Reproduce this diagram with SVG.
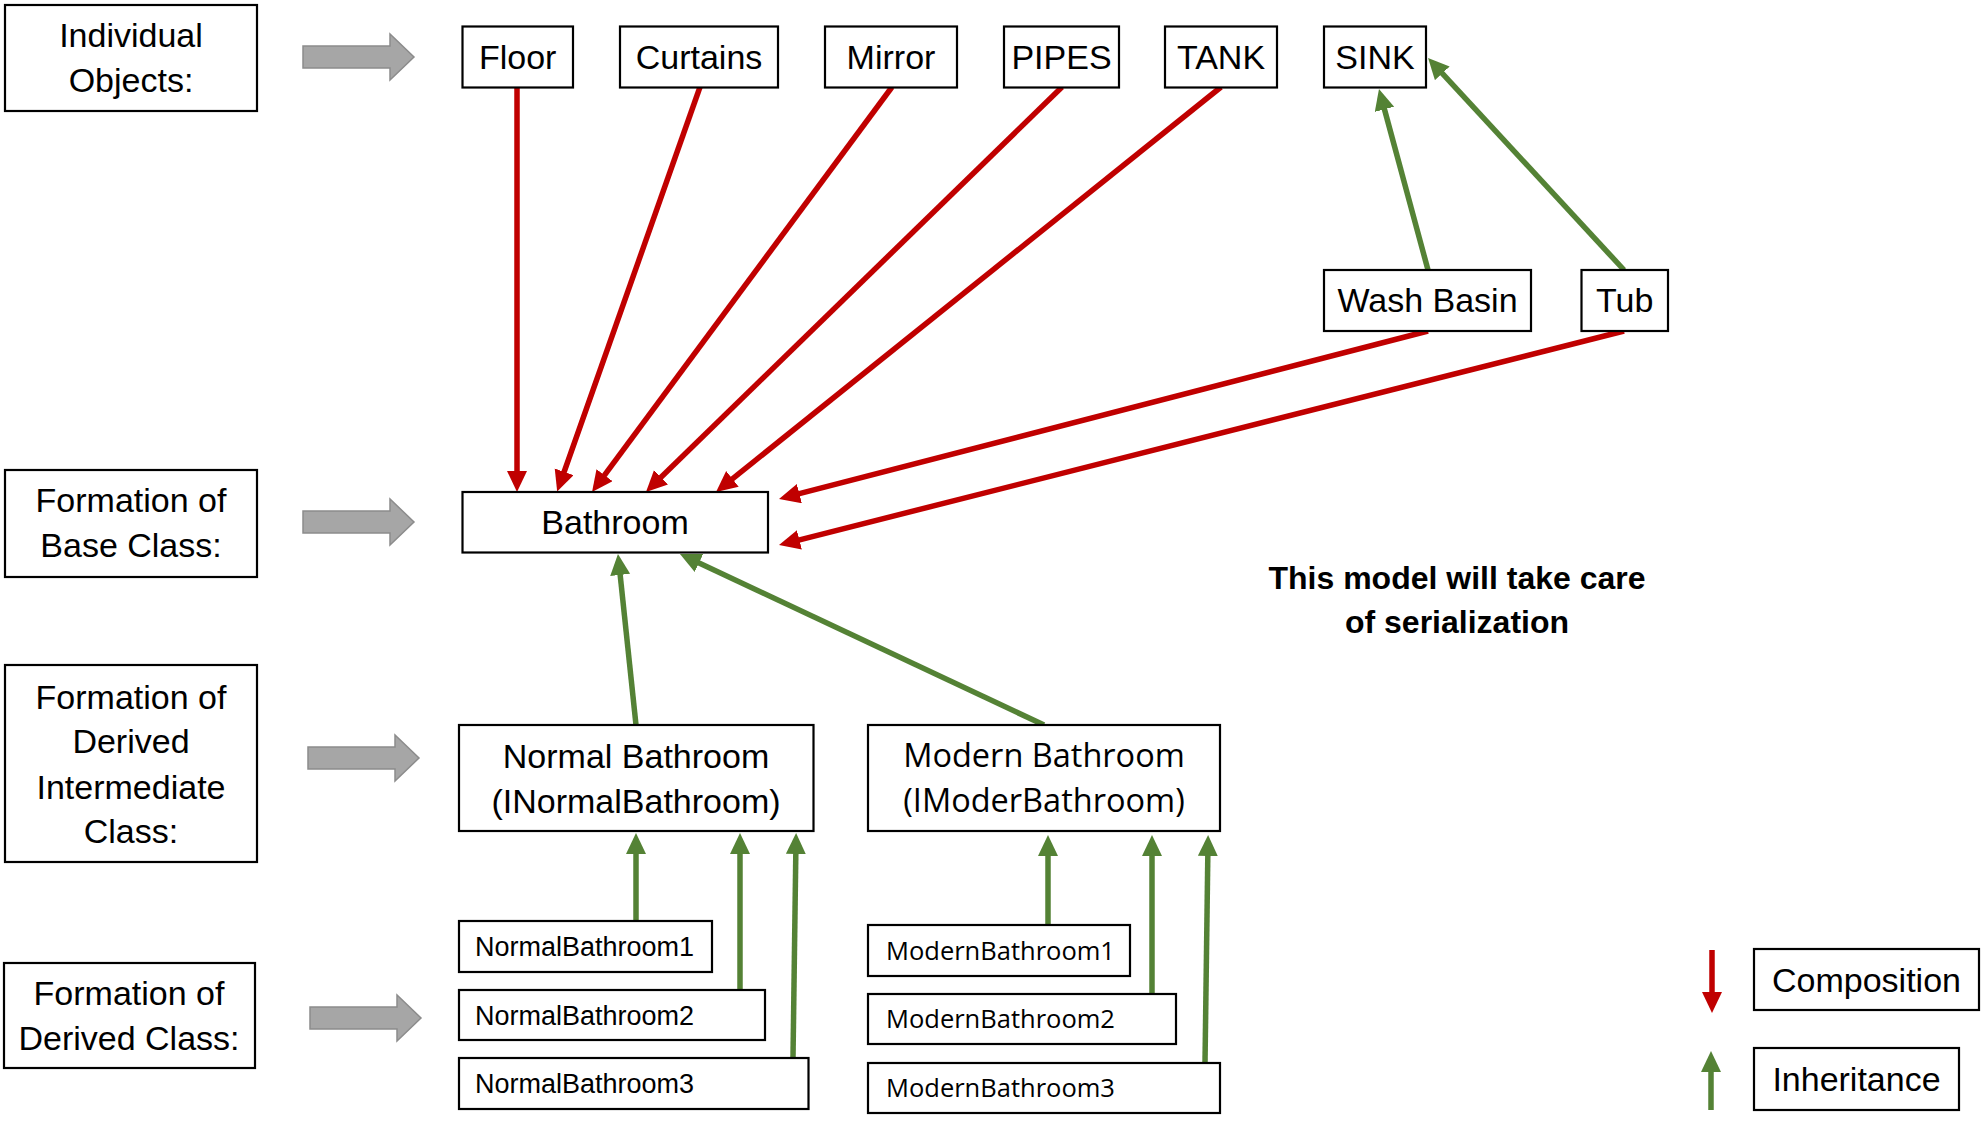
<svg xmlns="http://www.w3.org/2000/svg" width="1987" height="1125" viewBox="0 0 1987 1125">
<defs>
<style>
.box{fill:#fff;stroke:#000;stroke-width:2.2}
.t{font-family:"Liberation Sans",Arial,sans-serif;font-size:34px;fill:#000;text-anchor:middle}
.s{font-family:"Liberation Sans",Arial,sans-serif;font-size:27px;fill:#000}
.o{font-family:"Open Sans","Noto Sans",sans-serif;font-size:32.5px;fill:#000;text-anchor:middle}
.os{font-family:"Open Sans","Noto Sans",sans-serif;font-size:25.5px;fill:#000}
.b{font-family:"Liberation Sans",Arial,sans-serif;font-size:32px;font-weight:bold;fill:#000;text-anchor:middle}
.comp{stroke:#C00000;stroke-width:5.5;fill:none;marker-end:url(#ar)}
.inh{stroke:#548235;stroke-width:5.5;fill:none;marker-end:url(#ag)}
.gray{fill:#A6A6A6;stroke:#8C8C8C;stroke-width:1.5}
</style>
<marker id="ar" markerUnits="userSpaceOnUse" markerWidth="24" markerHeight="22" refX="14" refY="10" orient="auto">
<path d="M0,0 L21,10 L0,20 Z" fill="#C00000"/>
</marker>
<marker id="ag" markerUnits="userSpaceOnUse" markerWidth="24" markerHeight="22" refX="14" refY="10" orient="auto">
<path d="M0,0 L21,10 L0,20 Z" fill="#548235"/>
</marker>
<path id="blk" d="M0,-11 H87 V-23 L111,0 L87,23 V11 H0 Z"/>
</defs>
<rect width="1987" height="1125" fill="#fff"/>

<g id="labels">
<g id="lbl-individual"><rect class="box" x="5" y="5" width="252" height="106"/><text class="t" x="131" y="47">Individual</text><text class="t" x="131" y="92">Objects:</text></g>
<g id="lbl-base"><rect class="box" x="5" y="470" width="252" height="107"/><text class="t" x="131" y="512">Formation of</text><text class="t" x="131" y="557">Base Class:</text></g>
<g id="lbl-intermediate"><rect class="box" x="5" y="665" width="252" height="197"/><text class="t" x="131" y="709">Formation of</text><text class="t" x="131" y="753">Derived</text><text class="t" x="131" y="799">Intermediate</text><text class="t" x="131" y="843">Class:</text></g>
<g id="lbl-derived"><rect class="box" x="4" y="963" width="251" height="105"/><text class="t" x="129" y="1005">Formation of</text><text class="t" x="129" y="1050">Derived Class:</text></g>
</g>

<g id="block-arrows">
<use href="#blk" class="gray" x="303" y="57"/>
<use href="#blk" class="gray" x="303" y="522"/>
<use href="#blk" class="gray" x="308" y="758"/>
<use href="#blk" class="gray" x="310" y="1018"/>
</g>

<g id="connectors">
<line class="comp" x1="517" y1="87" x2="517" y2="485"/>
<line class="comp" x1="700" y1="87" x2="559.5" y2="485"/>
<line class="comp" x1="892" y1="87" x2="596.2" y2="486.4"/>
<line class="comp" x1="1062" y1="87" x2="651" y2="487"/>
<line class="comp" x1="1221" y1="87" x2="721.5" y2="487.6"/>
<line class="comp" x1="1428" y1="331" x2="785.8" y2="497.2"/>
<line class="comp" x1="1624" y1="331" x2="785.8" y2="543.3"/>
<line class="inh" x1="1428" y1="270" x2="1380.8" y2="95.8"/>
<line class="inh" x1="1624" y1="270" x2="1432.8" y2="63.1"/>
<line class="inh" x1="636" y1="725" x2="618.7" y2="561"/>
<line class="inh" x1="1044" y1="725" x2="686.3" y2="557"/>
<line class="inh" x1="636" y1="921" x2="636" y2="840"/>
<line class="inh" x1="740" y1="990" x2="740" y2="840"/>
<line class="inh" x1="793" y1="1058" x2="796" y2="840"/>
<line class="inh" x1="1048" y1="925" x2="1048" y2="842"/>
<line class="inh" x1="1152" y1="993" x2="1152" y2="842"/>
<line class="inh" x1="1205" y1="1063" x2="1208" y2="842"/>
</g>

<g id="n-floor"><rect class="box" x="462.5" y="26.5" width="110.5" height="61"/><text class="t" x="517.7" y="69">Floor</text></g>
<g id="n-curtains"><rect class="box" x="620" y="26.5" width="158" height="61"/><text class="t" x="699" y="69">Curtains</text></g>
<g id="n-mirror"><rect class="box" x="825" y="26.5" width="132" height="61"/><text class="t" x="891" y="69">Mirror</text></g>
<g id="n-pipes"><rect class="box" x="1004" y="26.5" width="115" height="61"/><text class="t" x="1061.5" y="69">PIPES</text></g>
<g id="n-tank"><rect class="box" x="1165" y="26.5" width="112" height="61"/><text class="t" x="1221" y="69">TANK</text></g>
<g id="n-sink"><rect class="box" x="1324" y="26.5" width="102" height="61"/><text class="t" x="1375" y="69">SINK</text></g>
<g id="n-washbasin"><rect class="box" x="1324" y="270" width="207" height="61"/><text class="t" x="1427.5" y="312">Wash Basin</text></g>
<g id="n-tub"><rect class="box" x="1581.5" y="270" width="86.5" height="61"/><text class="t" x="1624.7" y="312">Tub</text></g>
<g id="n-bathroom"><rect class="box" x="462.5" y="492" width="305.5" height="60.5"/><text class="t" x="615" y="534">Bathroom</text></g>
<g id="n-normal"><rect class="box" x="459" y="725" width="354.5" height="106"/><text class="t" x="636" y="768">Normal Bathroom</text><text class="t" x="636" y="813">(INormalBathroom)</text></g>
<g id="n-modern"><rect class="box" x="868" y="725" width="352" height="106"/><text class="o" x="1044" y="767">Modern Bathroom</text><text class="o" x="1044" y="812">(IModerBathroom)</text></g>
<g id="n-nb1"><rect class="box" x="459" y="921" width="253" height="51"/><text class="s" x="475" y="956">NormalBathroom1</text></g>
<g id="n-nb2"><rect class="box" x="459" y="990" width="306" height="50"/><text class="s" x="475" y="1025">NormalBathroom2</text></g>
<g id="n-nb3"><rect class="box" x="459" y="1058" width="349.5" height="51"/><text class="s" x="475" y="1093">NormalBathroom3</text></g>
<g id="n-mb1"><rect class="box" x="868" y="925" width="262" height="51"/><text class="os" x="886" y="960">ModernBathroom1</text></g>
<g id="n-mb2"><rect class="box" x="868" y="994" width="308" height="50"/><text class="os" x="886" y="1028">ModernBathroom2</text></g>
<g id="n-mb3"><rect class="box" x="868" y="1063" width="352" height="50"/><text class="os" x="886" y="1097">ModernBathroom3</text></g>

<g id="note"><text class="b" x="1457" y="589">This model will take care</text><text class="b" x="1457" y="633">of serialization</text></g>

<g id="legend">
<line class="comp" x1="1712" y1="950" x2="1712" y2="1006"/>
<line class="inh" x1="1711" y1="1110" x2="1711" y2="1058"/>
<g id="lg-composition"><rect class="box" x="1754" y="949" width="225" height="61"/><text class="t" x="1866.5" y="991.5">Composition</text></g>
<g id="lg-inheritance"><rect class="box" x="1754" y="1048" width="205" height="62"/><text class="t" x="1856.5" y="1091">Inheritance</text></g>
</g>
</svg>
